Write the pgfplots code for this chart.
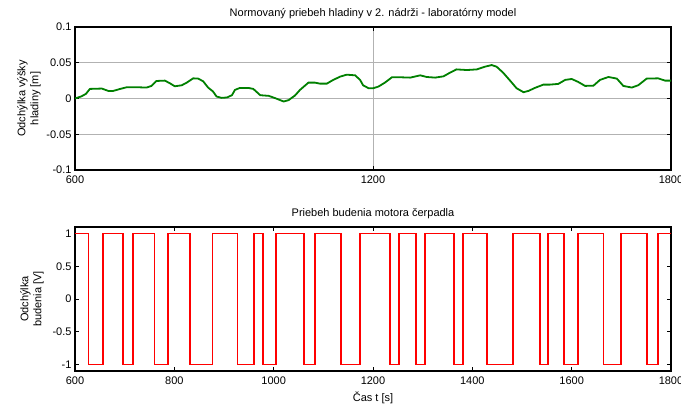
\documentclass[border=0pt]{standalone}
\usepackage{pgfplots}
\pgfplotsset{compat=1.18}
\usepackage{fontspec}
\setmainfont{Liberation Sans}
\definecolor{mgreen}{RGB}{0,128,0}
\begin{document}
\begin{tikzpicture}[font=\fontsize{11}{13}\selectfont]
\path[use as bounding box] (0,0) rectangle (681pt,404pt);
\pgfplotsset{
  myax/.style={
    scale only axis, width=596pt,
    xmin=600, xmax=1800,
    /pgf/number format/assume math mode=true,
    tick label style={font=\fontsize{11}{13}\selectfont},
    xticklabel style={yshift=-2pt},
    tick align=inside, major tick length=4pt,
    xtick pos=both, ytick pos=both,
    axis line style={line width=1.1pt},
    every tick/.style={black, line width=0.6pt},
    title style={at={(axis description cs:0.5,1)}, anchor=south, yshift=-1pt, font=\fontsize{11}{13}\selectfont},
    ylabel style={at={(axis description cs:0,0.5)}, anchor=center, align=center, font=\fontsize{11}{13}\selectfont},
    xticklabel style={/pgf/number format/.cd, fixed, 1000 sep={}},
    yticklabel style={/pgf/number format/.cd, fixed, fixed zerofill=false},
  }
}
\begin{axis}[myax,
  at={(75pt,234pt)}, anchor=south west, height=143pt,
  ymin=-0.1, ymax=0.1,
  xtick={600,1200,1800},
  ytick={-0.1,-0.05,0,0.05,0.1},
  yticklabels={-0.1,-0.05,0,0.05,0.1},
  grid=major, major grid style={gray!60, line width=0.6pt},
  title={Normovaný priebeh hladiny v 2. nádrži - laboratórny model},
  ylabel={Odchýlka výšky\\hladiny [m]},
  ylabel style={yshift=46pt},
]
\addplot[mgreen, line width=1.8pt] coordinates {
(600,0) (613,0.003) (622,0.0065) (630,0.0134) (654,0.0139) (667,0.0106) (677,0.0106)
(691,0.0134) (704,0.0157) (727,0.0157) (744,0.0153) (754,0.0176) (764,0.0245)
(781,0.025) (791,0.0213) (801,0.0171) (815,0.0185) (825,0.0222) (838,0.0282)
(848,0.0278) (858,0.0241) (868,0.0153) (878,0.0097) (885,0.0028) (895,0.0009)
(906,0.0014) (916,0.0046) (922,0.012) (932,0.0148) (949,0.0148) (959,0.0134)
(973,0.0046) (990,0.0037) (1003,0.0005) (1020,-0.0042) (1030,-0.0023) (1043,0.0042)
(1053,0.012) (1070,0.0222) (1083,0.0222) (1093,0.0208) (1107,0.0208) (1120,0.026)
(1134,0.0306) (1147,0.0333) (1164,0.0324) (1174,0.026) (1180,0.0185) (1191,0.0144)
(1200,0.0142) (1211,0.0167) (1224,0.0222) (1238,0.0296) (1258,0.0296) (1275,0.0292)
(1295,0.0324) (1308,0.0301) (1325,0.0292) (1342,0.031) (1355,0.0361) (1368,0.0407)
(1389,0.0398) (1409,0.0407) (1425,0.0444) (1439,0.0468) (1449,0.0444) (1462,0.0361)
(1476,0.025) (1489,0.0144) (1503,0.0088) (1513,0.0106) (1526,0.0148) (1543,0.0194)
(1556,0.0194) (1573,0.0204) (1587,0.026) (1600,0.0273) (1613,0.0232) (1627,0.0176)
(1644,0.018) (1657,0.026) (1674,0.0301) (1691,0.0278) (1704,0.0176) (1721,0.0153)
(1734,0.0185) (1751,0.0278) (1774,0.0282) (1788,0.025) (1800,0.025)
};
\end{axis}
\begin{axis}[myax,
  at={(75pt,33pt)}, anchor=south west, height=144pt,
  ymin=-1.1, ymax=1.1,
  xtick={600,800,1000,1200,1400,1600,1800},
  ytick={-1,-0.5,0,0.5,1},
  yticklabels={-1,-0.5,0,0.5,1},
  title={Priebeh budenia motora čerpadla},
  ylabel={Odchýlka\\budenia [V]},
  ylabel style={yshift=43pt},
  xlabel={Čas t [s]},
  xlabel style={font=\fontsize{11}{13}\selectfont, yshift=-1pt},
]
\addplot[red, line width=1.8pt] coordinates {
(600,1) (627,1) (627,-1) (656,-1) (656,1) (696,1) (696,-1) (717,-1) (717,1)
(760,1) (760,-1) (787,-1) (787,1) (831,1) (831,-1) (877,-1) (877,1) (927,1) (927,-1)
(960,-1) (960,1) (979,1) (979,-1) (1005,-1) (1005,1) (1061,1) (1061,-1) (1083,-1) (1083,1)
(1135,1) (1135,-1) (1174,-1) (1174,1) (1234,1) (1234,-1) (1252,-1) (1252,1)
(1286,1) (1286,-1) (1305,-1) (1305,1) (1363,1) (1363,-1) (1381,-1) (1381,1)
(1429,1) (1429,-1) (1482,-1) (1482,1) (1536,1) (1536,-1) (1553,-1) (1553,1)
(1585,1) (1585,-1) (1613,-1) (1613,1) (1664,1) (1664,-1) (1699,-1) (1699,1)
(1752,1) (1752,-1) (1774,-1) (1774,1) (1800,1)
};
\end{axis}
\end{tikzpicture}
\end{document}
